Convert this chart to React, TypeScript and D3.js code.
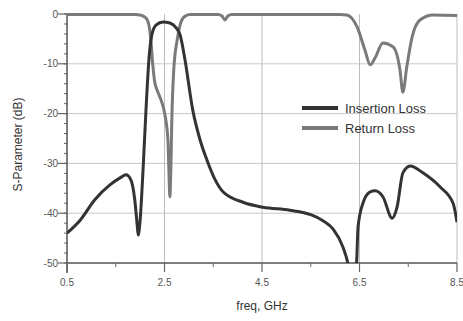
import * as d3 from "d3";

// insertion loss (S21)
const ilFreq = [0.5, 0.77, 1.07, 1.38, 1.59, 1.71, 1.81, 1.89, 1.94, 1.96, 2.0, 2.06, 2.12, 2.18, 2.24, 2.33, 2.47, 2.61, 2.74, 2.82, 2.92, 3.08, 3.23, 3.37, 3.54, 3.7, 4.11, 4.52, 5.07, 5.5, 5.75, 5.96, 6.16, 6.26, 6.36, 6.44, 6.47, 6.57, 6.72, 6.82, 6.98, 7.17, 7.27, 7.39, 7.54, 7.8, 8.15, 8.42, 8.5];
const ilDb = [-44, -41.4, -37.3, -34.3, -32.9, -32.3, -33.3, -37.3, -42.4, -44.4, -41.4, -31.3, -19.3, -9.2, -4.2, -2.2, -1.6, -1.8, -2.8, -4.2, -9.2, -19.3, -25.3, -29.3, -33.3, -35.7, -37.8, -38.8, -39.4, -40.3, -41.5, -43.2, -46.8, -50, -56, -50, -42.8, -38.0, -35.7, -35.5, -36.7, -41.0, -38.8, -31.9, -30.5, -31.9, -34.7, -38.0, -41.8];

// return loss (S11)
const rlFreq = [0.5, 1.5, 1.9, 2.0, 2.12, 2.18, 2.22, 2.26, 2.3, 2.35, 2.43, 2.51, 2.57, 2.59, 2.61, 2.63, 2.65, 2.69, 2.76, 2.82, 2.9, 3.02, 3.6, 3.68, 3.74, 3.8, 3.88, 6.1, 6.24, 6.45, 6.61, 6.72, 6.82, 6.98, 7.19, 7.33, 7.39, 7.47, 7.58, 7.74, 8.01, 8.5];
const rlDb = [-0.1, -0.1, -0.1, -0.2, -0.8, -2.2, -5.2, -10.2, -13.7, -15.3, -17.3, -20.3, -25.3, -31.3, -36.7, -31.3, -21.3, -11.2, -5.2, -2.2, -0.6, -0.1, -0.1, -0.4, -1.2, -0.4, -0.1, -0.1, -0.2, -2.6, -7.2, -10.2, -8.8, -5.8, -6.6, -11.2, -15.7, -10.6, -4.6, -1.2, -0.2, -0.3];

const xTicks = [0.5, 2.5, 4.5, 6.5, 8.5];
const xMinor = [1.5, 3.5, 5.5, 7.5];
const yTicks = [0, -10, -20, -30, -40, -50];
const yMinor = d3.range(0, -51, -2);
const legendItems = ["Insertion Loss", "Return Loss"];

const W = 463;
const H = 321;
const m = { top: 14, right: 6, bottom: 58, left: 67 };
const font = "'Liberation Sans', Arial, sans-serif";

export default function App() {
  const x = d3.scaleLinear().domain([0.5, 8.5]).range([m.left, W - m.right]);
  const y = d3.scaleLinear().domain([0, -50]).range([m.top, H - m.bottom]);

  const line = d3
    .line<[number, number]>()
    .x((d) => x(d[0]))
    .y((d) => y(d[1]))
    .curve(d3.curveMonotoneX);

  const il = ilFreq.map((f, i) => [f, ilDb[i]] as [number, number]);
  const rl = rlFreq.map((f, i) => [f, rlDb[i]] as [number, number]);

  const x0 = x.range()[0];
  const x1 = x.range()[1];
  const y0 = y.range()[0];
  const y1 = y.range()[1];

  const colors = ["#333333", "#7a7a7a"];

  return (
    <svg
      width={W}
      height={H}
      style={{ position: "absolute", left: 0, top: 0, background: "#fff" }}
      fontFamily={font}
    >
      <defs>
        <clipPath id="plot">
          <rect x={x0} y={y0 - 3} width={x1 - x0} height={y1 - y0 + 3} />
        </clipPath>
      </defs>

      {/* grid */}
      {yTicks.slice(1, -1).map((t) => (
        <line key={"gy" + t} x1={x0} x2={x1} y1={y(t)} y2={y(t)} stroke="#c9c9c9" strokeWidth={1} />
      ))}
      {xTicks.slice(1).map((t) => (
        <line key={"gx" + t} x1={x(t)} x2={x(t)} y1={y0} y2={y1} stroke="#bdbdbd" strokeWidth={1} />
      ))}

      {/* axes */}
      <line x1={x0} x2={x0} y1={y0} y2={y1 + 10} stroke="#555" strokeWidth={1.5} />
      <line x1={x0} x2={x1} y1={y1} y2={y1} stroke="#555" strokeWidth={1.5} />
      {yMinor.map((t) => (
        <line key={"my" + t} x1={x0 - 3} x2={x0 + 1} y1={y(t)} y2={y(t)} stroke="#666" strokeWidth={1} />
      ))}
      {yTicks.map((t) => (
        <g key={"ty" + t}>
          <line x1={x0 - 9} x2={x0} y1={y(t)} y2={y(t)} stroke="#666" strokeWidth={1.2} />
          <text x={x0 - 9} y={y(t)} dy="0.35em" textAnchor="end" fontSize={10} fill="#555">
            {t}
          </text>
        </g>
      ))}
      {xMinor.map((t) => (
        <line key={"mx" + t} x1={x(t)} x2={x(t)} y1={y1} y2={y1 + 4} stroke="#666" strokeWidth={1} />
      ))}
      {xTicks.map((t) => (
        <g key={"tx" + t}>
          <line x1={x(t)} x2={x(t)} y1={y1} y2={y1 + 9} stroke="#666" strokeWidth={1.2} />
          <text x={x(t)} y={y1 + 23} textAnchor="middle" fontSize={10} fill="#555">
            {t}
          </text>
        </g>
      ))}

      {/* curves */}
      <g clipPath="url(#plot)" fill="none" strokeLinejoin="round">
        <path d={line(rl) || ""} stroke={colors[1]} strokeWidth={3} />
        <path d={line(il) || ""} stroke={colors[0]} strokeWidth={3} />
      </g>

      {/* labels */}
      <text x={(x0 + x1) / 2} y={310} textAnchor="middle" fontSize={12} fill="#333">
        freq, GHz
      </text>
      <text
        transform={`translate(22,${(y0 + y1) / 2 + 6}) rotate(-90)`}
        textAnchor="middle"
        fontSize={12}
        fill="#333"
      >
        S-Parameter (dB)
      </text>

      {/* legend */}
      {legendItems.map((name, i) => (
        <g key={name} transform={`translate(302,${108 + i * 20})`}>
          <line x1={0} x2={36} y1={0} y2={0} stroke={colors[i]} strokeWidth={4} />
          <text x={43} y={0} dy="0.35em" fontSize={13} fill="#333">
            {name}
          </text>
        </g>
      ))}
    </svg>
  );
}
